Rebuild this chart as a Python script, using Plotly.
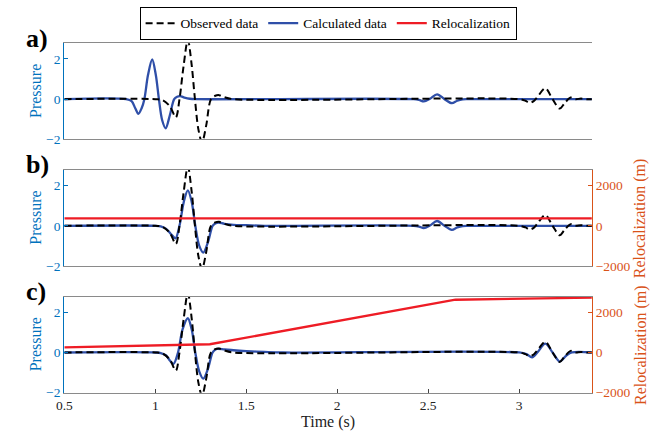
import plotly.graph_objects as go

# ---------------- data ----------------
# observed pressure record (same in every panel)
obs_t = [0.5, 1.0, 1.04, 1.08, 1.113, 1.133, 1.155, 1.179, 1.20, 1.217, 1.237, 1.257,
         1.28, 1.306, 1.33, 1.351, 1.38, 1.43, 3.0, 3.035, 3.057, 3.08, 3.10, 3.144,
         3.184, 3.223, 3.25, 3.283, 3.31, 3.34, 3.37, 3.4]
obs_p = [0, 0, -0.05, -0.35, -0.9, 0.0, 1.6, 2.95, 1.7, 0.1, -1.5, -2.15,
         -1.3, 0.0, 0.17, 0.2, 0.1, 0.0, 0, -0.08, -0.18, -0.1, 0.1, 0.54,
         0.0, -0.47, -0.2, 0.08, 0.0, 0.03, 0.0, 0]

# calculated pressure, panel a (initial location)
calc_a_t = [0.5, 0.84, 0.87, 0.89, 0.907, 0.925, 0.94, 0.96, 0.983, 1.003, 1.02, 1.038,
            1.057, 1.08, 1.104, 1.12, 1.137, 1.16, 1.19, 1.22, 2.42, 2.45, 2.476, 2.51,
            2.549, 2.59, 2.63, 2.66, 2.69, 2.72, 3.4]
calc_a_p = [0, 0, -0.1, -0.45, -0.73, -0.45, 0.0, 1.2, 1.97, 1.2, 0.0, -1.05,
            -1.45, -0.8, 0.0, 0.12, 0.15, 0.08, 0.02, 0, 0, -0.04, -0.11, 0.02,
            0.24, 0.0, -0.2, -0.08, -0.01, 0, 0]

# calculated pressure, panel b (constant relocalization)
calc_b_t = [0.5, 1.0, 1.03, 1.06, 1.09, 1.111, 1.133, 1.157, 1.179, 1.20, 1.22, 1.242,
            1.264, 1.29, 1.315, 1.33, 1.347, 1.38, 1.43, 1.5, 1.6, 2.42, 2.45, 2.476,
            2.51, 2.549, 2.59, 2.63, 2.66, 2.69, 2.72, 3.4]
calc_b_p = [0, 0, -0.03, -0.15, -0.45, -0.62, 0.0, 1.2, 1.76, 1.2, 0.0, -1.0,
            -1.33, -0.8, 0.0, 0.12, 0.16, 0.1, 0.05, 0.03, 0, 0, -0.04, -0.11,
            0.02, 0.24, 0.0, -0.2, -0.08, -0.01, 0, 0]

# calculated pressure, panel c (time-varying relocalization)
calc_c_t = [0.5, 1.0, 1.03, 1.06, 1.08, 1.10, 1.125, 1.15, 1.179, 1.20, 1.22, 1.242,
            1.264, 1.29, 1.315, 1.33, 1.34, 1.38, 1.43, 1.5, 1.6, 1.7, 3.0, 3.04,
            3.071, 3.10, 3.144, 3.184, 3.223, 3.26, 3.29, 3.4]
calc_c_p = [0, 0, -0.03, -0.15, -0.4, -0.57, 0.0, 1.15, 1.7, 1.15, 0.0, -0.95,
            -1.3, -0.8, 0.0, 0.14, 0.18, 0.15, 0.11, 0.07, 0.03, 0, 0, -0.08,
            -0.24, 0.0, 0.44, 0.0, -0.45, -0.15, 0, 0]

# relocalization (m)
reloc_b_t = [0.5, 3.4]
reloc_b_m = [370, 370]
reloc_c_t = [0.5, 1.3, 2.65, 3.4]
reloc_c_m = [250, 410, 2620, 2730]

time_ticks = [0.5, 1, 1.5, 2, 2.5, 3]
p_ticks = [-2, 0, 2]
m_ticks = [-2000, 0, 2000]

# ---------------- styling ----------------
W, H = 665, 441
FONT = "Liberation Serif, Times New Roman, DejaVu Serif, serif"
BLUE_AX = "#0072BD"
ORANGE_AX = "#D95319"
LINE_BLUE = "#2F4FA8"
LINE_RED = "#EE1C25"
BOX_GRAY = "#8a8a8a"

x0, x1 = 57 / W, 591 / W
panels = [(44, 142), (173, 271), (302, 400)]   # top/bottom in px
doms = [[(H - b) / H, (H - t) / H] for t, b in panels]

fig = go.Figure()

def pressure_pair(tc, pc, xa, ya, show):
    fig.add_trace(go.Scatter(
        x=tc, y=pc, xaxis=xa, yaxis=ya, mode="lines", name="Calculated data",
        line=dict(color=LINE_BLUE, width=2.3, shape="spline", smoothing=0.9),
        showlegend=show, legendrank=2))
    fig.add_trace(go.Scatter(
        x=obs_t, y=obs_p, xaxis=xa, yaxis=ya, mode="lines", name="Observed data",
        line=dict(color="black", width=2, dash="7px,4px", shape="spline", smoothing=0.9),
        showlegend=show, legendrank=1))

pressure_pair(calc_a_t, calc_a_p, "x", "y", True)
pressure_pair(calc_b_t, calc_b_p, "x2", "y2", False)
pressure_pair(calc_c_t, calc_c_p, "x3", "y3", False)

fig.add_trace(go.Scatter(
    x=reloc_b_t, y=reloc_b_m, xaxis="x2", yaxis="y5", mode="lines",
    name="Relocalization", line=dict(color=LINE_RED, width=2.3),
    showlegend=True, legendrank=3))
fig.add_trace(go.Scatter(
    x=reloc_c_t, y=reloc_c_m, xaxis="x3", yaxis="y6", mode="lines",
    name="Relocalization", line=dict(color=LINE_RED, width=2.3),
    showlegend=False))

layout = dict(
    width=W, height=H, margin=dict(l=0, r=0, t=0, b=0),
    paper_bgcolor="white", plot_bgcolor="white",
    font=dict(family=FONT, size=13, color="black"),
    legend=dict(orientation="h", x=(x0 + x1) / 2, xanchor="center", y=1 - 7 / H,
                yanchor="top", bordercolor="black", borderwidth=1, bgcolor="white",
                font=dict(family=FONT, size=13.5), itemwidth=30,
                tracegroupgap=0, traceorder="normal"),
)

tick_font_blue = dict(family=FONT, size=13.5, color=BLUE_AX)
tick_font_orange = dict(family=FONT, size=13.5, color=ORANGE_AX)

for i in range(3):
    sx = "" if i == 0 else str(i + 1)
    last = i == 2
    layout["xaxis" + sx] = dict(
        domain=[x0, x1], range=[0.5, 3.4], anchor="y" + sx,
        showline=True, mirror=True, linecolor=BOX_GRAY, linewidth=1.3,
        showgrid=False, zeroline=False,
        tickvals=time_ticks if last else [],
        ticks="inside" if last else "", ticklen=4, tickcolor="#444",
        showticklabels=last, tickfont=dict(family=FONT, size=13.5, color="#222"),
    )
    layout["yaxis" + sx] = dict(
        domain=doms[i], range=[-2, 2.78], anchor="x" + sx,
        showline=True, linecolor=BLUE_AX, linewidth=1.3,
        showgrid=False, zeroline=False,
        tickvals=p_ticks, ticks="inside", ticklen=4, tickcolor=BLUE_AX,
        tickfont=tick_font_blue,
    )
    ry = str(i + 4)
    layout["yaxis" + ry] = dict(
        overlaying="y" + sx, side="right", anchor="x" + sx,
        range=[-2000, 2780], showline=True, linecolor=ORANGE_AX, linewidth=1.3,
        showgrid=False, zeroline=False,
        tickvals=m_ticks if i > 0 else [], ticks="inside" if i > 0 else "",
        ticklen=4, tickcolor=ORANGE_AX, showticklabels=i > 0,
        tickfont=tick_font_orange,
    )

fig.update_layout(**layout)

ann = []
for i, (t, b) in enumerate(panels):
    mid = 1 - ((t + b) / 2) / H
    ann.append(dict(text="Pressure", x=28 / W, y=mid, xref="paper", yref="paper",
                    textangle=-90, showarrow=False, xanchor="center", yanchor="middle",
                    font=dict(family=FONT, size=16, color=BLUE_AX)))
    if i > 0:
        ann.append(dict(text="Relocalization (m)", x=640 / W, y=mid, xref="paper",
                        yref="paper", textangle=-90, showarrow=False,
                        xanchor="center", yanchor="middle",
                        font=dict(family=FONT, size=16, color=ORANGE_AX)))
    ann.append(dict(text="<b>" + "abc"[i] + ")</b>", x=16 / W, y=1 - (t - 5) / H,
                    xref="paper", yref="paper", showarrow=False,
                    xanchor="left", yanchor="middle",
                    font=dict(family=FONT, size=26, color="black")))

ann.append(dict(text="Time (s)", x=(x0 + x1) / 2, y=1 - 430 / H, xref="paper",
                yref="paper", showarrow=False, xanchor="center", yanchor="middle",
                font=dict(family=FONT, size=16, color="#222")))
fig.update_layout(annotations=ann)

fig.write_html("out.html")
